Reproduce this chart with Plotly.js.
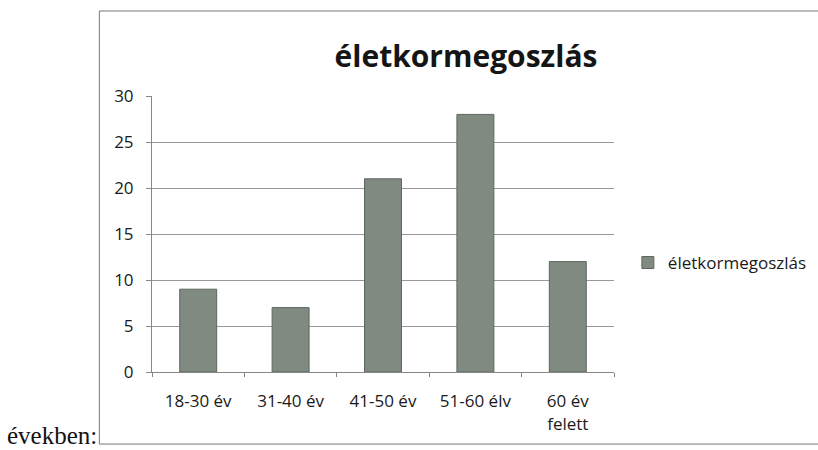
<!DOCTYPE html>
<html><head><meta charset="utf-8">
<script src="https://cdn.plot.ly/plotly-3.0.1.min.js"></script>
<style>html,body{margin:0;padding:0;background:#fff}#c{width:818px;height:450px}</style>
</head><body><div id="c"></div>
<script>
const categories = ["18-30 év", "31-40 év", "41-50 év", "51-60 élv", "60 év<br>felett"];
const values = [9, 7, 21, 28, 12];
const seriesName = "életkormegoszlás";
const yTicks = [0, 5, 10, 15, 20, 25, 30];

const font = "Open Sans, Lato, sans-serif";
const trace = {
  type: "bar", x: categories, y: values, name: seriesName,
  marker: {color: "#7f8a80", line: {color: "#5f665f", width: 1}},
  showlegend: true
};
const layout = {
  width: 818, height: 450,
  margin: {l: 152, r: 204, t: 96, b: 78, autoexpand: false},
  paper_bgcolor: "#fff", plot_bgcolor: "#fff",
  font: {family: font, size: 17, color: "#1a1a1a"},
  bargap: 0.6,
  title: {text: "<b>életkormegoszlás</b>", font: {family: font, size: 30, color: "#151515"},
          x: 466/818, xanchor: "center", y: 1 - 56/450, yanchor: "middle"},
  xaxis: {type: "category", showline: true, linecolor: "#888", linewidth: 1,
          ticks: "outside", tickson: "boundaries", ticklen: 4, tickcolor: "#888",
          showgrid: false, tickfont: {size: 17, color: "#1a1a1a"}, ticklabelstandoff: 14},
  yaxis: {range: [0, 30], tickvals: yTicks, showline: true, linecolor: "#888", linewidth: 1,
          ticks: "outside", ticklen: 5, tickcolor: "#888", gridcolor: "#999", gridwidth: 1,
          zeroline: false, tickfont: {size: 17, color: "#1a1a1a"}, ticklabelstandoff: 9},
  legend: {x: 1.03, xanchor: "left", y: 0.395, yanchor: "middle", font: {size: 17, color: "#1a1a1a"},
           bgcolor: "rgba(0,0,0,0)", itemwidth: 30},
  shapes: [
    {type: "rect", xref: "paper", yref: "paper", x0: -0.114, x1: 1.5, y0: -0.261, y1: 1.308,
     line: {color: "#777", width: 1}, fillcolor: "rgba(0,0,0,0)", layer: "below"}
  ],
  annotations: [
    {text: "években:", xref: "paper", yref: "paper", x: -0.114, y: -0.261, xanchor: "right", yanchor: "bottom",
     showarrow: false, font: {family: "Liberation Serif, Times New Roman, serif", size: 25, color: "#111"}, xshift: 0, yshift: -7}
  ]
};
Plotly.newPlot("c", [trace], layout, {displayModeBar: false, staticPlot: true});
</script></body></html>
